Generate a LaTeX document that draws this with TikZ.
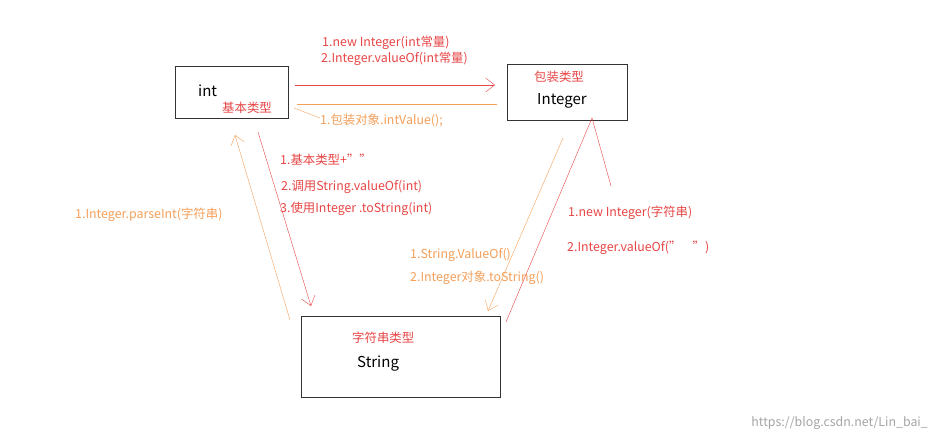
\documentclass[tikz,border=0pt]{standalone}
\usepackage{fontspec}
\setmainfont{Noto Sans CJK SC}
\usetikzlibrary{arrows.meta}
\definecolor{redtxt}{RGB}{232,70,70}
\definecolor{orgtxt}{RGB}{245,160,90}

\begin{document}
\begin{tikzpicture}[x=1pt,y=-1pt,
  box/.style={draw=black!80,thick},
  lbl/.style={anchor=west,inner sep=0pt,font=\fontsize{12.4}{14}\selectfont},
  typename/.style={anchor=west,inner sep=0pt,font=\fontsize{15}{17}\selectfont},
  tip/.style={-{Straight Barb[length=9pt,width=14pt]}}]
\useasboundingbox (0,0) rectangle (936,438);
\fill[white] (0,0) rectangle (936,438);

% boxes
\draw[box] (175,66) rectangle (288,118);
\draw[box] (507,64) rectangle (627,120);
\draw[box] (301,316) rectangle (500,397);
\node[typename] (int) at (198,91) {int};
\node[lbl,redtxt] (intT) at (222,108) {基本类型};
\node[lbl,redtxt] (intgT) at (534,77) {包装类型};
\node[typename] (intg) at (537,101) {Integer};
\node[lbl,redtxt] (strT) at (352,338) {字符串类型};
\node[typename] (str) at (357,364) {String};

% connectors
\draw[redtxt,tip] (295,85) -- (495,85);
\draw[orgtxt] (297,104) -- (497,104);
\draw[orgtxt] (294,108) -- (320,118);
\draw[redtxt,tip] (258,132) -- (311,306);
\draw[orgtxt,tip] (290,320) -- (235,135);
\draw[orgtxt,tip] (563,138) -- (488,311);
\draw[redtxt] (506,322) -- (592,118) -- (611,186);

% labels
\node[lbl,redtxt] at (322,43) {1.new Integer(int常量)};
\node[lbl,redtxt] at (321,59) {2.Integer.valueOf(int常量)};
\node[lbl,orgtxt] at (320,120) {1.包装对象.intValue();};
\node[lbl,redtxt] at (280,160) {1.基本类型+""};
\node[lbl,redtxt] at (281,187) {2.调用String.valueOf(int)};
\node[lbl,redtxt] at (280,209) {3.使用Integer .toString(int)};
\node[lbl,orgtxt] at (75,215) {1.Integer.parseInt(字符串)};
\node[lbl,redtxt] at (568,213) {1.new Integer(字符串)};
\node[lbl,redtxt] at (567,248) {2.Integer.valueOf(”\ \ \ \ ”)};
\node[lbl,orgtxt] at (410,255) {1.String.ValueOf()};
\node[lbl,orgtxt] at (410,278) {2.Integer对象.toString()};
\node[lbl,anchor=east,black!35] at (928,423) {https://blog.csdn.net/Lin\_bai\_};
\end{tikzpicture}
\end{document}
